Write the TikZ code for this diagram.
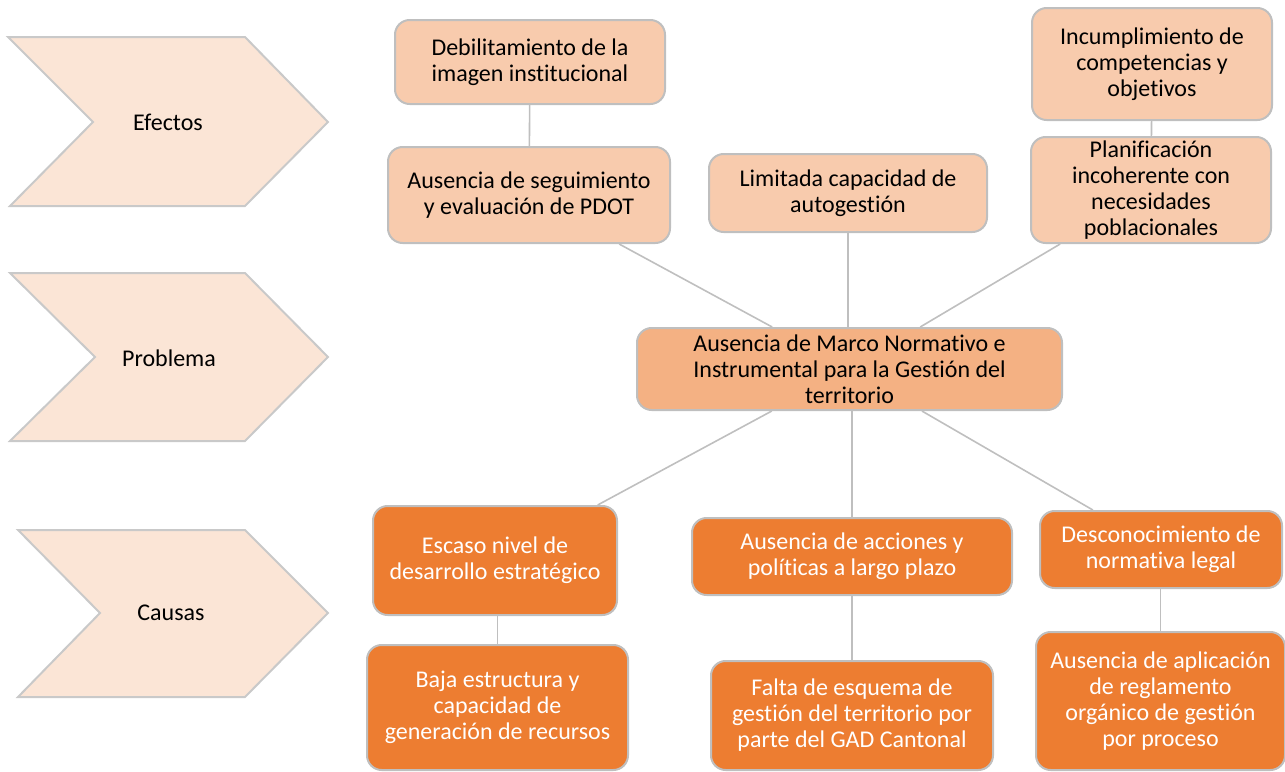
\documentclass[tikz,border=0pt]{standalone}
\usepackage{fontspec}
\setmainfont[Ligatures=NoCommon]{Carlito}
\definecolor{efectofill}{HTML}{F8CBAD}
\definecolor{probfill}{HTML}{F4B183}
\definecolor{causafill}{HTML}{ED7D31}
\definecolor{flechafill}{HTML}{FBE5D6}
\definecolor{bordegris}{HTML}{BFBFBF}
\definecolor{lineagris}{HTML}{BFBFBF}
\tikzset{
  caja/.style={draw=bordegris, line width=1.5pt, rounded corners=11pt, align=center,
    inner sep=2pt, font=\fontsize{18}{19.5}\selectfont},
  efecto/.style={caja, fill=efectofill},
  problema/.style={caja, fill=probfill},
  causa/.style={caja, fill=causafill, text=white},
  enlace/.style={draw=lineagris, line width=1.2pt},
  flecha/.style={draw=bordegris!85!white, line width=1.5pt, fill=flechafill, line join=miter},
  rotulo/.style={font=\fontsize{18}{19.5}\selectfont}
}
\begin{document}
\begin{tikzpicture}[x=0.75pt,y=-0.75pt]
\useasboundingbox (0,0) rectangle (1285,771);
\draw[flecha] (8,37) -- (245,37) -- (328,122) -- (245,206) -- (10,206) -- (93,122) -- cycle;
\draw[flecha] (10,273) -- (245,273) -- (328,357) -- (245,441) -- (10,441) -- (95,357) -- cycle;
\draw[flecha] (18,530) -- (245,530) -- (328,613) -- (245,697) -- (18,697) -- (100,613) -- cycle;
\node[rotulo] (lbefe) at (168,122) {Efectos};
\node[rotulo] (lbprob) at (169,358) {Problema};
\node[rotulo] (lbcau) at (171,613) {Causas};

\node[efecto, minimum width=202.5pt, minimum height=63pt] (efe1) at (530,62)
  {Debilitamiento de la\\imagen institucional};
\node[efecto, minimum width=211.5pt, minimum height=72pt] (efe2) at (529,195)
  {Ausencia de seguimiento\\y evaluación de PDOT};
\node[efecto, minimum width=208.5pt, minimum height=58.5pt] (efe3) at (848,193)
  {Limitada capacidad de\\autogestión};
\node[efecto, minimum width=180pt, minimum height=84pt] (efe4) at (1152,64)
  {Incumplimiento de\\competencias y\\objetivos};
\node[efecto, minimum width=180pt, minimum height=79.5pt] (efe5) at (1151,190)
  {Planificación\\incoherente con\\necesidades\\poblacionales};

\node[problema, minimum width=318.75pt, minimum height=61.5pt] (prob) at (849.5,369)
  {Ausencia de Marco Normativo e\\Instrumental para la Gestión del\\territorio};

\node[causa, minimum width=183pt, minimum height=81.75pt] (cau1) at (495,560.5)
  {Escaso nivel de\\desarrollo estratégico};
\node[causa, minimum width=240pt, minimum height=57.75pt] (cau2) at (852,556.5)
  {Ausencia de acciones y\\políticas a largo plazo};
\node[causa, minimum width=181.5pt, minimum height=57.75pt] (cau3) at (1161,549.5)
  {Desconocimiento de\\normativa legal};
\node[causa, minimum width=195.75pt, minimum height=93.75pt] (cau4) at (497.5,707.5)
  {Baja estructura y\\capacidad de\\generación de recursos};
\node[causa, minimum width=211.5pt, minimum height=81.75pt] (cau5) at (852,715.5)
  {Falta de esquema de\\gestión del territorio por\\parte del GAD Cantonal};
\node[causa, minimum width=186.75pt, minimum height=103.5pt] (cau6) at (1160.5,701)
  {Ausencia de aplicación\\de reglamento\\orgánico de gestión\\por proceso};

\draw[enlace] (efe1) -- (efe2);
\draw[enlace] (efe4) -- (efe5);
\draw[enlace] (efe2) -- (prob);
\draw[enlace] (efe3.south) -- (efe3.south |- prob.north);
\draw[enlace] (efe5) -- (prob);
\draw[enlace] (prob) -- (cau1);
\draw[enlace] (cau2.north) -- (cau2.north |- prob.south);
\draw[enlace] (prob) -- (cau3);
\draw[enlace] (cau1.south -| cau4.north) -- (cau4.north);
\draw[enlace] (cau2) -- (cau5);
\draw[enlace] (cau3.south -| cau6.north) -- (cau6.north);
\end{tikzpicture}
\end{document}
